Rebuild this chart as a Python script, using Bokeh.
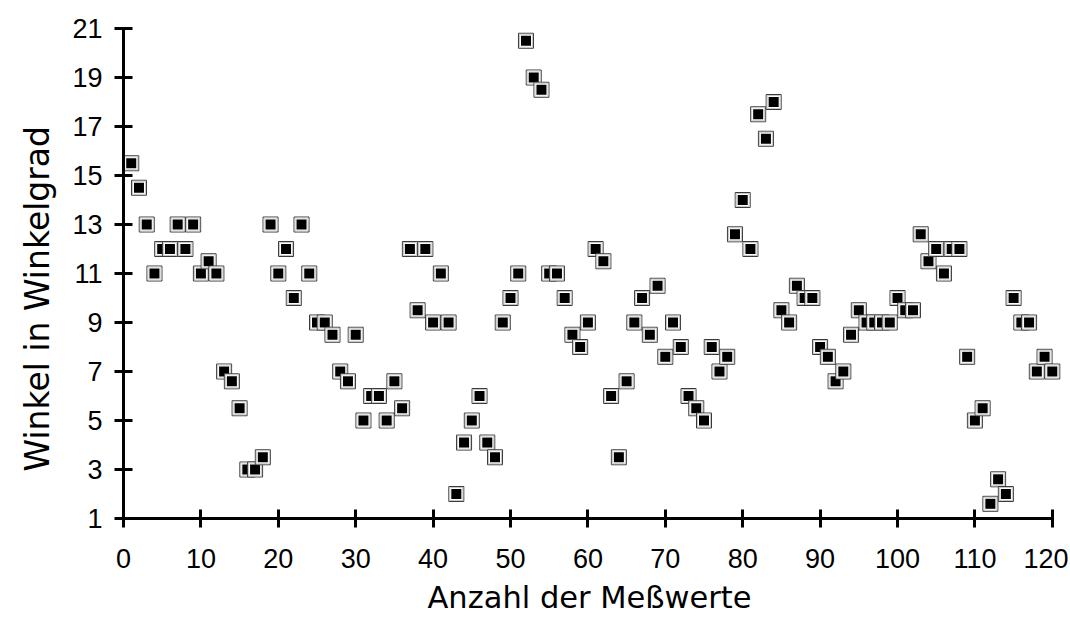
from bokeh.plotting import figure
from bokeh.models import Range1d, FixedTicker, Title
from bokeh.embed import file_html
from bokeh.resources import INLINE

# Messwert index (1..120) and angle in degrees
messwerte = list(range(1, 121))
winkel = [
    15.5, 14.5, 13, 11, 12, 12, 13, 12, 13, 11,
    11.5, 11, 7, 6.6, 5.5, 3, 3, 3.5, 13, 11,
    12, 10, 13, 11, 9, 9, 8.5, 7, 6.6, 8.5,
    5, 6, 6, 5, 6.6, 5.5, 12, 9.5, 12, 9,
    11, 9, 2, 4.1, 5, 6, 4.1, 3.5, 9, 10,
    11, 20.5, 19, 18.5, 11, 11, 10, 8.5, 8, 9,
    12, 11.5, 6, 3.5, 6.6, 9, 10, 8.5, 10.5, 7.6,
    9, 8, 6, 5.5, 5, 8, 7, 7.6, 12.6, 14,
    12, 17.5, 16.5, 18, 9.5, 9, 10.5, 10, 10, 8,
    7.6, 6.6, 7, 8.5, 9.5, 9, 9, 9, 9, 10,
    9.5, 9.5, 12.6, 11.5, 12, 11, 12, 12, 7.6, 5,
    5.5, 1.6, 2.6, 2, 10, 9, 9, 7, 7.6, 7,
]
x_ticks = list(range(0, 121, 10))
y_ticks = list(range(1, 22, 2))
x_title = "Anzahl der Meßwerte"
y_title = "Winkel in Winkelgrad"

# layout in pixels
LEFT, TOP, FRAME_H, W, H = 123, 28, 490, 1068, 624
PX_PER_X = 7.74
frame_w = W - LEFT - 6
x_end = frame_w / PX_PER_X

p = figure(width=W, height=H, output_backend="svg", toolbar_location=None,
           x_range=Range1d(0, x_end), y_range=Range1d(1, 21),
           min_border_left=LEFT, min_border_right=W - LEFT - frame_w,
           min_border_top=TOP, min_border_bottom=H - TOP - FRAME_H)
p.outline_line_color = None
p.xgrid.visible = False
p.ygrid.visible = False

for i in range(len(messwerte)):
    xx = [messwerte[i]]
    yy = [winkel[i]]
    p.scatter(xx, yy, marker="square", size=15, fill_color="white",
              line_color="#3a3a3a", line_width=1)
    p.scatter(xx, yy, marker="square", size=13, fill_color=None,
              line_color="#c8c8c8", line_width=1)
    p.scatter(xx, yy, marker="square", size=10, fill_color="black",
              line_color=None)

for ax in (p.xaxis[0], p.yaxis[0]):
    ax.axis_line_width = 3
    ax.axis_line_color = "black"
    ax.major_tick_line_width = 3
    ax.major_tick_line_color = "black"
    ax.major_tick_in = 9
    ax.major_tick_out = 9
    ax.minor_tick_line_color = None
    ax.major_label_text_font = "Liberation Sans"
    ax.major_label_text_font_size = "27px"
    ax.major_label_text_color = "black"

p.xaxis[0].ticker = FixedTicker(ticks=x_ticks)
p.yaxis[0].ticker = FixedTicker(ticks=y_ticks)
p.xaxis[0].bounds = (0, 120)
p.xaxis[0].major_label_standoff = 21
p.yaxis[0].major_label_standoff = 12

# axis titles as side titles (not clipped by the frame)
p.add_layout(Title(text=x_title, align="left", offset=304, standoff=14,
                   text_font="DejaVu Sans", text_font_size="30.5px",
                   text_font_style="normal", text_color="black"), "below")
p.add_layout(Title(text=y_title, align="left", offset=47, standoff=22,
                   vertical_align="top",
                   text_font="DejaVu Sans", text_font_size="33px",
                   text_font_style="normal", text_color="black"), "left")

open("out.html", "w").write(file_html(p, INLINE))
